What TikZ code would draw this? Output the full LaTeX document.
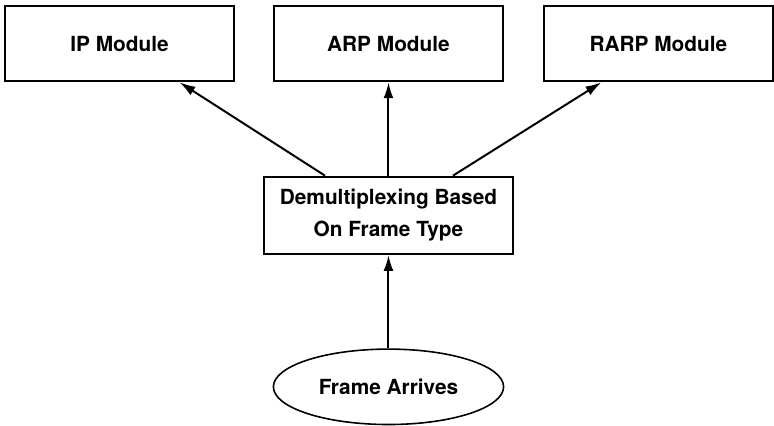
\documentclass[tikz,border=0pt]{standalone}
\usepackage{fontspec}
\setmainfont{TeX Gyre Heros}
\usepackage{tikz}
\usetikzlibrary{arrows.meta, positioning, shapes.geometric}
\tikzset{
  modbox/.style={rectangle, draw=black, fill=white, line width=1pt,
                 minimum width=115.5pt, minimum height=38pt,
                 font=\fontsize{10.5}{16}\selectfont\bfseries, align=center},
  evbox/.style={ellipse, draw=black, fill=white, line width=0.8pt,
                minimum width=116pt, minimum height=38pt, inner sep=0pt,
                font=\fontsize{10.5}{16}\selectfont\bfseries, align=center},
  arr/.style={-{Latex[length=8pt, width=5pt]}, line width=1pt, color=black},
}
\begin{document}
\begin{tikzpicture}[node distance=19pt]
      \node[modbox] (arp) {ARP Module};
      \node[modbox, left=19pt of arp] (ip) {IP Module};
      \node[modbox, right=19.5pt of arp] (rarp) {RARP Module};

      \node[modbox, minimum width=125.5pt, minimum height=39pt, below=47pt of arp] (demux)
           {Demultiplexing Based\\On Frame Type};

      \node[evbox, below=47pt of demux] (frame) {Frame Arrives};

      \draw[arr] (frame) -- (demux);
      \draw[arr] ([xshift=-32pt]demux.north) -- ([xshift=-28pt]ip.south east);
      \draw[arr] (demux) -- (arp);
      \draw[arr] ([xshift=32.5pt]demux.north) -- ([xshift=29.5pt]rarp.south west);

      \useasboundingbox (-195.75pt,22pt) rectangle (191.25pt,-192pt);
\end{tikzpicture}
\end{document}
